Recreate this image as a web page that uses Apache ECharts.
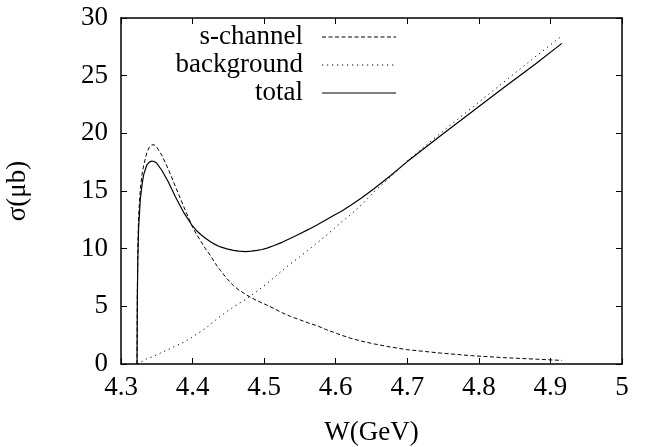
<!DOCTYPE html>
<html><head><meta charset="utf-8">
<script src="https://cdn.jsdelivr.net/npm/echarts@6/dist/echarts.min.js"></script>
<style>html,body{margin:0;padding:0;background:#fff}#c{width:645px;height:447px}</style>
</head><body><div id="c"></div>
<script>
const W          = [4.3224,4.3228,4.3235,4.3246,4.327,4.3295,4.3316,4.336,4.3395,4.343,4.3465,4.350,4.357,4.366,4.376,4.388,4.399,4.405,4.411,4.418,4.425,4.432,4.439,4.448,4.457,4.465,4.474,4.482,4.490,4.497,4.504,4.514,4.525,4.537,4.550,4.562,4.575,4.586,4.597,4.608,4.620,4.636,4.653,4.676,4.700,4.746,4.790,4.835,4.880,4.916];
const sChannel   = [0,6,10,12.8,15.2,16.5,17.2,18.3,18.8,19.0,19.0,18.8,18.1,16.9,15.4,13.6,12.0,11.3,10.7,10.0,9.4,8.7,8.1,7.4,6.8,6.4,6.05,5.75,5.5,5.3,5.1,4.8,4.45,4.12,3.83,3.55,3.3,3.0,2.75,2.5,2.25,1.98,1.75,1.48,1.24,0.95,0.72,0.55,0.42,0.31];
const background = [0,0.01,0.03,0.06,0.14,0.22,0.3,0.45,0.52,0.6,0.7,0.8,1.0,1.25,1.55,1.9,2.3,2.55,2.8,3.1,3.45,3.8,4.15,4.55,4.95,5.25,5.6,5.95,6.3,6.65,7.0,7.5,8.1,8.7,9.3,9.9,10.55,11.1,11.7,12.3,12.9,13.8,14.9,16.2,17.6,20.0,22.2,24.45,26.7,28.45];
const total      = [0,5.5,9,11.8,14.3,15.6,16.4,17.25,17.5,17.6,17.55,17.4,16.8,15.8,14.5,13.1,12.05,11.6,11.25,10.9,10.6,10.35,10.15,9.98,9.85,9.78,9.75,9.78,9.85,9.93,10.05,10.27,10.55,10.9,11.3,11.67,12.1,12.49,12.88,13.25,13.72,14.4,15.18,16.3,17.55,19.77,21.85,23.97,26.05,27.8];
const legendNames = ['s-channel','background','total'];
const xName = 'W(GeV)';
const yName = 'σ(μb)';

const FONT = 'Liberation Serif';
const FS = 27;
const pair = arr => W.map((w,i)=>[w,arr[i]]);
const styles = [
  {type:[4,2.5], width:1},
  {type:[1.2,3.8], width:1},
  {type:'solid', width:1.2}
];
const chart = echarts.init(document.getElementById('c'));
const axisCommon = {
  axisLine:{show:true,onZero:false,lineStyle:{color:'#000',width:1.5}},
  axisTick:{show:true,inside:true,length:6,lineStyle:{color:'#000',width:1}},
  splitLine:{show:false}
};
const mkSeries = (name, arr, st) => ({
  name, type:'line', data: pair(arr), showSymbol:false, symbol:'none',
  smooth:false,
  lineStyle:{color:'#000', width:st.width, type:st.type, join:'round'}, z:3, animation:false
});
const legendY = [37,65,93];
const graphics = [];
legendNames.forEach((n,i)=>{
  graphics.push({type:'text', x:303, y:legendY[i], style:{text:n, font:FS+'px "'+FONT+'"', fill:'#000', textAlign:'right', textVerticalAlign:'middle'}});
  graphics.push({type:'line', shape:{x1:322,y1:legendY[i],x2:396,y2:legendY[i]}, style:{stroke:'#000', lineWidth:styles[i].width, lineDash: styles[i].type==='solid'?null:styles[i].type}});
});
chart.setOption({
  animation:false,
  backgroundColor:'#fff',
  grid:{left:121,right:23,top:18,bottom:83,containLabel:false,outerBoundsMode:'none'},
  xAxis:[
    Object.assign({type:'value',min:4.3,max:5,interval:0.1,position:'bottom',
      name:xName,nameLocation:'middle',nameGap:55,
      nameTextStyle:{fontFamily:FONT,fontSize:FS,color:'#000'},
      axisLabel:{fontFamily:FONT,fontSize:FS,color:'#000',margin:10}}, axisCommon),
    Object.assign({type:'value',min:4.3,max:5,interval:0.1,position:'top',axisLabel:{show:false}}, axisCommon)
  ],
  yAxis:[
    Object.assign({type:'value',min:0,max:30,interval:5,position:'left',
      name:yName,nameLocation:'middle',nameGap:90,nameRotate:90,
      nameTextStyle:{fontFamily:FONT,fontSize:FS,color:'#000'},
      axisLabel:{fontFamily:FONT,fontSize:FS,color:'#000',margin:13}}, axisCommon),
    Object.assign({type:'value',min:0,max:30,interval:5,position:'right',axisLabel:{show:false}}, axisCommon)
  ],
  series:[
    mkSeries(legendNames[0], sChannel, styles[0]),
    mkSeries(legendNames[1], background, styles[1]),
    mkSeries(legendNames[2], total, styles[2])
  ],
  graphic: graphics
});
</script></body></html>
